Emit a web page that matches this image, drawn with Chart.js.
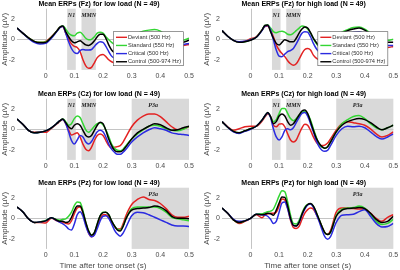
<!DOCTYPE html>
<html><head><meta charset="utf-8">
<script src="https://cdn.jsdelivr.net/npm/chart.js@4.4.1/dist/chart.umd.min.js"></script>
<style>
html,body{margin:0;padding:0;background:#fff;}
body{width:400px;height:270px;overflow:hidden;position:relative;font-family:"Liberation Sans",Arial,sans-serif;}
canvas{position:absolute;}
</style></head><body>
<canvas id="p0" width="200" height="92" style="left:0;top:0"></canvas>
<canvas id="p1" width="200" height="92" style="left:200px;top:0"></canvas>
<canvas id="p2" width="200" height="92" style="left:0;top:90px"></canvas>
<canvas id="p3" width="200" height="92" style="left:200px;top:90px"></canvas>
<canvas id="p4" width="200" height="92" style="left:0;top:179px"></canvas>
<canvas id="p5" width="200" height="92" style="left:200px;top:179px"></canvas>
<script>
// time after tone onset (s)
const T = [-0.1,-0.08,-0.06,-0.04,-0.02,0,0.02,0.04,0.05,0.06,0.07,0.08,0.09,0.10,0.11,0.12,0.13,0.14,0.15,0.16,0.17,0.18,0.19,0.20,0.21,0.22,0.23,0.24,0.25,0.26,0.27,0.28,0.30,0.32,0.34,0.36,0.38,0.40,0.42,0.44,0.46,0.48,0.50];

const xTicks = [0, 0.1, 0.2, 0.3, 0.4, 0.5];
const xTickLabels = ['0', '0.1', '0.2', '0.3', '0.4', '0.5'];
const yTicks = [-2, 0, 2];
const yTickLabels = ['-2', '0', '2'];

const seriesNames = ['Deviant (500 Hz)', 'Standard (550 Hz)', 'Critical (500 Hz)', 'Control (500-974 Hz)'];

const n1Window = [0.075, 0.105];
const mmnWindow = [0.125, 0.175];
const p3aWindow = [0.3, 0.5];

// Fz, low load
const fzLowDeviant  = [1.1,0.6,0.15,-0.2,-0.3,-0.2,0.25,0.85,1.2,1.25,0.6,0.0,-0.45,-0.7,-0.8,-1.2,-2.0,-2.6,-2.85,-2.75,-2.3,-1.8,-1.55,-1.5,-1.7,-2.0,-2.2,-2.3,-2.3,-2.1,-1.8,-1.5,-0.8,-0.2,0.2,0.4,0.5,0.3,-0.1,-0.4,-0.6,-0.6,-0.5];
const fzLowStandard = [1.1,0.6,0.15,-0.2,-0.3,-0.25,0.2,0.85,1.2,1.3,1.0,0.6,0.4,0.35,0.6,0.7,0.45,0.1,-0.05,0.0,0.25,0.6,0.7,0.6,0.25,-0.05,-0.3,-0.5,-0.6,-0.5,-0.3,-0.1,0.3,0.6,0.8,0.9,0.95,0.8,0.4,0.0,-0.2,-0.1,0.1];
const fzLowCritical = [1.1,0.6,0.1,-0.3,-0.45,-0.4,0.1,0.8,1.15,1.25,0.6,-0.25,-0.9,-1.3,-1.4,-1.1,-1.0,-1.05,-1.05,-1.0,-0.7,-0.4,-0.25,-0.3,-0.7,-1.2,-1.65,-1.85,-1.9,-1.8,-1.5,-1.2,-0.6,-0.1,0.2,0.35,0.4,0.25,-0.1,-0.4,-0.55,-0.5,-0.4];
const fzLowControl  = [1.1,0.6,0.15,-0.2,-0.35,-0.3,0.2,0.85,1.2,1.3,0.75,0.25,-0.15,-0.35,-0.25,-0.15,-0.35,-0.55,-0.6,-0.45,-0.15,0.25,0.5,0.5,0.1,-0.55,-1.05,-1.3,-1.4,-1.3,-1.1,-0.8,-0.3,0.1,0.4,0.55,0.6,0.45,0.1,-0.2,-0.35,-0.3,-0.1];

// Fz, high load
const fzHighDeviant  = [0.85,0.3,-0.1,-0.3,-0.2,0.05,0.25,0.9,1.25,1.3,0.9,0.25,-0.55,-1.05,-1.4,-1.7,-2.1,-2.4,-2.55,-2.4,-1.95,-1.4,-1.0,-0.9,-1.05,-1.55,-1.85,-2.0,-2.0,-1.8,-1.5,-1.1,-0.4,0.1,0.4,0.6,0.7,0.5,0.1,-0.3,-0.6,-0.8,-0.7];
const fzHighStandard = [0.85,0.3,-0.1,-0.3,-0.25,-0.05,0.2,0.9,1.35,1.4,1.1,0.75,0.65,0.75,0.8,0.7,0.5,0.45,0.6,0.85,1.1,1.3,1.25,1.0,0.6,0.1,-0.4,-0.7,-0.8,-0.7,-0.5,-0.2,0.3,0.7,0.95,1.15,1.2,1.0,0.6,0.2,-0.1,-0.1,0.0];
const fzHighCritical = [0.85,0.3,-0.1,-0.25,-0.2,-0.05,0.2,0.85,1.3,1.35,0.9,-0.05,-1.05,-1.65,-1.7,-1.45,-1.2,-1.1,-0.9,-0.45,0.1,0.6,0.75,0.7,0.25,-0.4,-0.9,-1.2,-1.3,-1.2,-1.0,-0.7,-0.1,0.3,0.55,0.7,0.75,0.55,0.15,-0.2,-0.5,-0.6,-0.6];
const fzHighControl  = [0.85,0.3,-0.1,-0.3,-0.25,-0.1,0.2,0.9,1.35,1.4,0.75,0.1,-0.4,-0.55,-0.3,-0.05,-0.15,-0.25,-0.25,0.1,0.6,1.0,1.2,1.1,0.65,0.1,-0.3,-0.65,-0.8,-0.75,-0.55,-0.3,0.2,0.6,0.85,1.0,1.1,0.9,0.5,0.1,-0.2,-0.3,-0.3];

// Cz, low load
const czLowDeviant  = [1.0,0.5,-0.1,-0.3,-0.3,-0.3,0.1,0.55,0.8,0.95,0.55,-0.05,-0.55,-0.45,-0.35,-0.75,-1.45,-1.95,-2.1,-1.75,-1.1,-0.6,-0.45,-0.6,-1.1,-1.6,-1.85,-1.75,-1.7,-1.6,-1.25,-0.75,0.25,0.9,1.3,1.5,1.5,1.25,0.75,0.25,-0.05,0.05,0.25];
const czLowStandard = [1.0,0.5,-0.1,-0.35,-0.3,-0.15,0.15,0.6,0.85,1.0,0.75,0.4,0.55,1.05,1.3,1.15,0.55,-0.05,-0.3,-0.05,0.3,0.55,0.65,0.45,-0.05,-0.7,-1.45,-1.85,-2.05,-2.1,-1.95,-1.6,-0.95,-0.45,-0.05,0.3,0.4,0.3,0.05,-0.1,-0.15,0.0,0.3];
const czLowCritical = [1.0,0.5,-0.1,-0.35,-0.3,-0.15,0.15,0.6,0.85,0.95,0.55,-0.25,-1.1,-1.45,-1.05,-0.6,-0.75,-1.25,-1.45,-1.2,-0.7,-0.25,-0.1,-0.25,-0.75,-1.45,-1.95,-2.25,-2.45,-2.45,-2.25,-1.95,-1.25,-0.75,-0.35,-0.05,0.15,0.05,-0.1,-0.35,-0.45,-0.5,-0.6];
const czLowControl  = [1.0,0.5,-0.1,-0.35,-0.3,-0.15,0.15,0.6,0.85,1.0,0.65,0.25,0.05,0.4,0.55,0.4,-0.1,-0.6,-0.75,-0.6,-0.1,0.4,0.7,0.55,-0.1,-0.95,-1.6,-2.05,-2.2,-2.2,-2.05,-1.7,-0.95,-0.35,0.0,0.3,0.55,0.45,0.15,-0.1,-0.05,0.15,0.3];

// Cz, high load
const czHighDeviant  = [0.75,0.25,-0.1,0.05,0.25,0.3,0.3,0.8,1.2,1.5,1.25,0.4,0.25,0.5,0.55,0.25,-0.45,-1.05,-1.25,-1.05,-0.45,0.15,0.5,0.4,-0.1,-0.75,-1.25,-1.55,-1.6,-1.55,-1.35,-0.95,-0.1,0.55,0.75,0.65,0.55,0.4,0.05,-0.45,-0.75,-0.6,-0.25];
const czHighStandard = [0.75,0.2,-0.2,-0.35,-0.15,0.05,0.3,0.9,1.3,1.6,1.25,0.75,0.95,1.55,2.05,2.05,1.55,1.05,0.85,1.05,1.4,1.65,1.75,1.5,0.9,0.05,-0.75,-1.45,-1.75,-1.85,-1.7,-1.25,-0.25,0.55,0.95,1.25,1.35,1.05,0.55,0.15,-0.05,0.15,0.4];
const czHighCritical = [0.75,0.2,-0.25,-0.4,-0.2,0.0,0.3,0.9,1.3,1.6,1.15,0.05,-0.75,-1.05,-0.75,-0.1,0.05,-0.05,0.15,0.65,1.15,1.55,1.65,1.3,0.55,-0.25,-1.1,-1.7,-2.05,-2.15,-2.05,-1.6,-0.6,0.05,0.3,0.25,0.3,0.15,-0.25,-0.7,-0.95,-0.75,-0.45];
const czHighControl  = [0.75,0.2,-0.2,-0.35,-0.15,0.05,0.3,0.9,1.3,1.65,1.25,0.55,0.75,1.3,1.5,1.3,0.75,0.4,0.55,0.95,1.4,1.8,1.9,1.55,0.75,-0.1,-0.85,-1.35,-1.7,-1.85,-1.7,-1.25,-0.25,0.4,0.75,0.95,1.05,0.95,0.65,0.25,-0.05,0.15,0.4];

// Pz, low load
const pzLowDeviant  = [1.1,0.65,-0.05,-0.4,-0.4,-0.45,0.0,-0.25,-0.35,-0.4,-0.5,-0.55,-0.25,0.45,1.0,1.1,0.55,-0.55,-1.45,-1.8,-1.55,-0.75,0.0,0.35,0.35,0.1,-0.4,-0.8,-1.05,-1.05,-0.55,0.25,1.35,1.85,2.1,1.85,1.75,1.45,0.95,0.35,0.1,0.1,0.2];
const pzLowStandard = [1.1,0.65,-0.05,-0.4,-0.35,-0.2,0.05,-0.15,-0.2,-0.1,-0.05,0.2,0.6,1.25,1.6,1.55,0.75,-0.4,-1.25,-1.65,-1.4,-0.55,0.25,0.6,0.6,0.35,-0.25,-0.75,-1.05,-1.15,-0.75,-0.05,0.95,1.1,1.1,1.1,1.1,0.95,0.6,0.1,-0.05,-0.15,-0.25];
const pzLowCritical = [1.1,0.65,-0.05,-0.4,-0.35,-0.25,0.05,-0.25,-0.4,-0.55,-0.75,-1.05,-1.15,-0.55,0.35,0.65,0.2,-0.75,-1.45,-1.8,-1.65,-1.0,-0.25,0.2,0.25,0.0,-0.55,-1.15,-1.55,-1.75,-1.45,-0.9,0.25,0.6,0.55,0.35,0.1,-0.15,-0.4,-0.65,-0.75,-0.75,-0.8];
const pzLowControl  = [1.1,0.65,-0.05,-0.4,-0.35,-0.25,0.05,-0.2,-0.3,-0.3,-0.4,-0.35,0.1,0.75,1.2,1.2,0.6,-0.4,-1.25,-1.65,-1.4,-0.55,0.25,0.55,0.6,0.35,-0.25,-0.75,-1.15,-1.25,-0.8,-0.05,0.8,0.95,1.0,1.05,1.2,1.1,0.75,0.2,0.0,0.0,-0.05];

// Pz, high load
const pzHighDeviant  = [1.0,0.5,-0.15,-0.5,-0.3,0.0,0.35,0.05,0.3,0.45,0.5,0.5,0.6,1.2,1.9,1.8,1.0,-0.2,-0.9,-1.0,-0.8,-0.1,0.5,0.85,1.0,0.9,0.4,-0.2,-0.8,-1.4,-1.55,-1.2,0.6,1.0,1.0,0.95,0.9,0.9,0.5,0.0,-0.3,0.1,0.35];
const pzHighStandard = [1.0,0.5,-0.15,-0.4,-0.25,0.0,0.4,0.45,0.55,0.65,0.7,0.9,1.5,2.2,2.7,2.6,1.6,0.3,-0.5,-0.55,-0.2,0.5,1.1,1.35,1.4,1.2,0.6,-0.1,-0.8,-1.4,-1.6,-1.4,0.3,0.9,1.0,1.05,1.2,1.0,0.4,-0.3,-0.6,-0.5,-0.1];
const pzHighCritical = [1.0,0.5,-0.1,-0.3,-0.25,0.0,0.4,0.35,0.3,0.2,-0.1,-0.5,-0.3,0.6,1.5,1.6,0.9,-0.1,-0.7,-0.75,-0.4,0.3,0.9,1.3,1.4,1.1,0.4,-0.3,-1.1,-1.8,-2.05,-1.8,-0.4,0.3,0.35,0.4,0.65,0.85,0.2,-0.5,-0.85,-0.8,-0.5];
const pzHighControl  = [1.0,0.5,-0.15,-0.4,-0.25,0.0,0.4,0.35,0.4,0.5,0.45,0.3,0.8,1.5,2.1,2.05,1.2,0.0,-0.7,-0.75,-0.4,0.4,1.0,1.35,1.45,1.2,0.6,-0.1,-0.8,-1.4,-1.6,-1.35,0.2,0.8,0.95,1.0,1.05,0.95,0.5,-0.1,-0.4,-0.3,0.2];

// ---------- styling / layout ----------
const seriesColors = ['#e32222', '#33d633', '#2b2be0', '#000000'];
const axisColor = '#4a4a4a';
const labelFont = '"Liberation Sans", Arial, sans-serif';

const N1 = {range: n1Window, label: 'N1', at: (n1Window[0] + n1Window[1]) / 2};
const MMN = {range: mmnWindow, label: 'MMN', at: (mmnWindow[0] + mmnWindow[1]) / 2};
const P3A = {range: p3aWindow, label: 'P3a', at: 0.375};

const panels = [
  {title: 'Mean ERPs (Fz) for low load (N = 49)',  s: [fzLowDeviant, fzLowStandard, fzLowCritical, fzLowControl],     win: [N1, MMN],      legend: true,  xlabel: false, col: 0},
  {title: 'Mean ERPs (Fz) for high load (N = 49)', s: [fzHighDeviant, fzHighStandard, fzHighCritical, fzHighControl], win: [N1, MMN],      legend: true,  xlabel: false, col: 1},
  {title: 'Mean ERPs (Cz) for low load (N = 49)',  s: [czLowDeviant, czLowStandard, czLowCritical, czLowControl],     win: [N1, MMN, P3A], legend: false, xlabel: false, col: 0},
  {title: 'Mean ERPs (Cz) for high load (N = 49)', s: [czHighDeviant, czHighStandard, czHighCritical, czHighControl], win: [N1, MMN, P3A], legend: false, xlabel: false, col: 1},
  {title: 'Mean ERPs (Pz) for low load (N = 49)',  s: [pzLowDeviant, pzLowStandard, pzLowCritical, pzLowControl],     win: [P3A],          legend: false, xlabel: true,  col: 0},
  {title: 'Mean ERPs (Pz) for high load (N = 49)', s: [pzHighDeviant, pzHighStandard, pzHighCritical, pzHighControl], win: [P3A],          legend: false, xlabel: true,  col: 1}
];

const erpPlugin = {
  id: 'erp',
  beforeDatasetsDraw(chart, args, o) {
    const {ctx, chartArea: a, scales: {x, y}} = chart;
    ctx.save();
    ctx.fillStyle = '#d9d9d9';
    for (const w of o.windows) {
      const x0 = x.getPixelForValue(w.range[0]), x1 = x.getPixelForValue(w.range[1]);
      ctx.fillRect(x0, a.top, x1 - x0, a.bottom - a.top);
    }
    ctx.strokeStyle = '#c4c4c4';
    ctx.lineWidth = 1;
    const zx = Math.round(x.getPixelForValue(0)) + 0.5, zy = Math.round(y.getPixelForValue(0)) + 0.5;
    ctx.beginPath();
    ctx.moveTo(zx, a.top); ctx.lineTo(zx, a.bottom);
    ctx.moveTo(a.left, zy); ctx.lineTo(a.right, zy);
    ctx.stroke();
    ctx.fillStyle = '#222';
    ctx.font = 'italic bold 6px "Liberation Serif", "DejaVu Serif", serif';
    ctx.textAlign = 'center';
    ctx.textBaseline = 'middle';
    for (const w of o.windows) {
      ctx.fillText(w.label, x.getPixelForValue(w.at), y.getPixelForValue(2.3));
    }
    ctx.restore();
  },
  afterDatasetsDraw(chart, args, o) {
    const {ctx, chartArea: a} = chart;
    ctx.save();
    if (o.legend) {
      const bw = 70, bh = 34;
      const bx = a.right - 5.5 - bw, by = a.top + 23;
      ctx.fillStyle = '#fff';
      ctx.fillRect(bx, by, bw, bh);
      ctx.strokeStyle = '#555';
      ctx.lineWidth = 0.6;
      ctx.strokeRect(bx, by, bw, bh);
      ctx.font = '5.7px ' + labelFont;
      ctx.textAlign = 'left';
      ctx.textBaseline = 'middle';
      seriesNames.forEach((n, i) => {
        const ly = by + 5.6 + i * 8.15;
        ctx.strokeStyle = seriesColors[i];
        ctx.lineWidth = 1.4;
        ctx.beginPath(); ctx.moveTo(bx + 2.5, ly); ctx.lineTo(bx + 13.5, ly); ctx.stroke();
        ctx.fillStyle = '#333';
        ctx.fillText(n, bx + 14.5, ly);
      });
    }
    // panel title
    ctx.fillStyle = '#000';
    ctx.font = 'bold 7px ' + labelFont;
    ctx.textAlign = 'center';
    ctx.textBaseline = 'middle';
    ctx.fillText(o.title, (a.left + a.right) / 2 - 4, 4.2);
    ctx.restore();
  }
};

panels.forEach((p, k) => {
  const left = p.col === 0;
  const datasets = [3, 2, 1, 0].map(i => ({
    label: seriesNames[i],
    data: T.map((t, j) => ({x: t, y: p.s[i][j]})),
    borderColor: seriesColors[i],
    borderWidth: 1.5,
    pointRadius: 0,
    fill: false,
    cubicInterpolationMode: 'monotone'
  }));
  new Chart(document.getElementById('p' + k), {
    type: 'line',
    data: {datasets},
    options: {
      responsive: false,
      animation: false,
      devicePixelRatio: 1,
      events: [],
      layout: {padding: {top: 8.7, bottom: 0.1, left: left ? 0 : 2, right: left ? 11 : 6.5}},
      plugins: {
        legend: {display: false},
        tooltip: {enabled: false},
        title: {display: false},
        erp: {windows: p.win, legend: p.legend, title: p.title}
      },
      scales: {
        x: {
          type: 'linear', min: -0.1, max: 0.5,
          border: {display: false},
          grid: {display: false, drawTicks: false},
          afterBuildTicks: ax => { ax.ticks = xTicks.map(v => ({value: v})); },
          afterFit: ax => { ax.height = 22; },
          ticks: {
            padding: 1.8, color: axisColor, maxRotation: 0, autoSkip: false,
            font: {family: labelFont, size: 7},
            callback: (v, i) => xTickLabels[i]
          },
          title: {
            display: p.xlabel, text: 'Time after tone onset (s)', color: axisColor,
            font: {family: labelFont, size: 8}, padding: {top: 1.8, bottom: 0}
          }
        },
        y: {
          min: -3, max: 3,
          border: {display: false},
          grid: {display: false, drawTicks: false},
          afterBuildTicks: ax => { ax.ticks = yTicks.map(v => ({value: v})); },
          afterFit: ax => { ax.width = left ? 17 : 20; },
          ticks: {
            padding: 2, color: axisColor,
            font: {family: labelFont, size: 7},
            callback: (v, i) => yTickLabels[i]
          },
          title: {
            display: true, text: 'Amplitude (µV)', color: axisColor,
            font: {family: labelFont, size: 8}, padding: {top: left ? 0.2 : 0, bottom: 0}
          }
        }
      }
    },
    plugins: [erpPlugin]
  });
});
</script>
</body></html>
